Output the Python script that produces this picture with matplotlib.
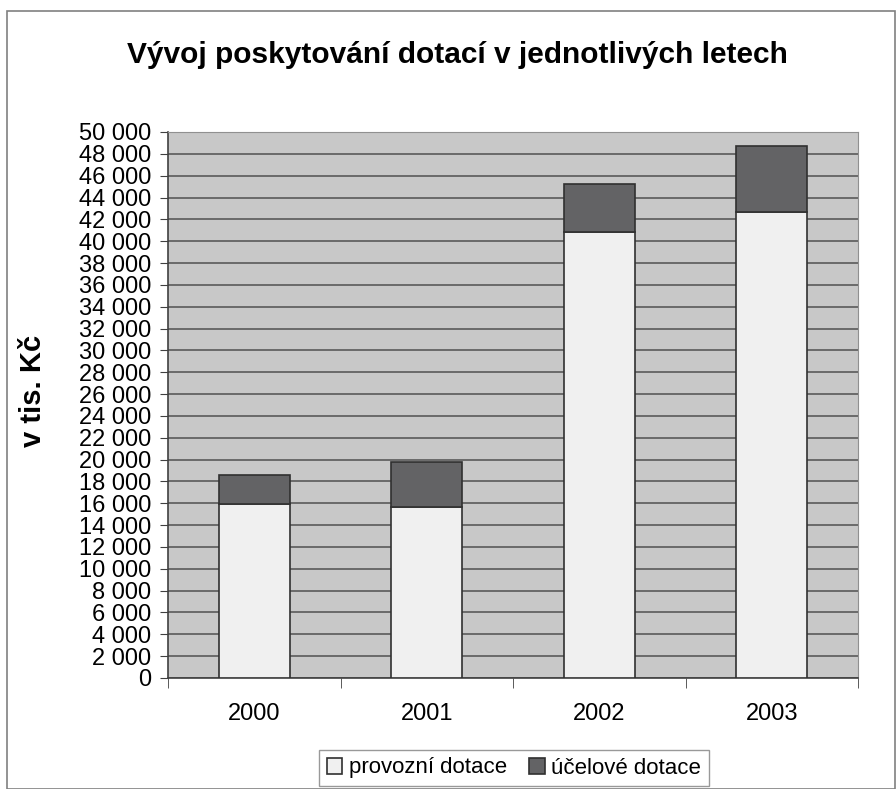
import matplotlib.pyplot as plt
import matplotlib.patches as patches
import numpy as np

# data (v tis. Kc)
years = ['2000', '2001', '2002', '2003']
provozni = [15900, 15700, 40800, 42700]
ucelove = [2700, 4050, 4400, 6000]

plt.rcParams['font.family'] = ['Liberation Sans', 'DejaVu Sans']

fig = plt.figure(figsize=(8.96, 7.89), dpi=100)
# outer chart border
fig.patches.append(patches.Rectangle((7/896, 0), 888/896, 1 - 11/789, transform=fig.transFigure,
                                     fill=False, edgecolor='#808080', linewidth=1.2))

ax = fig.add_axes([168/896, 1 - 678/789, 690/896, 546/789])
ax.set_facecolor('#c8c8c8')

x = np.arange(len(years))
ax.bar(x, provozni, width=0.41, color='#f0f0f0', edgecolor='#303030', linewidth=1.2,
       label='provozní dotace', zorder=3)
ax.bar(x, ucelove, width=0.41, bottom=provozni, color='#636365', edgecolor='#303030',
       linewidth=1.2, label='účelové dotace', zorder=3)

ax.set_xlim(-0.5, 3.5)
ax.set_ylim(0, 50000)
ticks = np.arange(0, 50001, 2000)
ax.set_yticks(ticks)
ax.set_yticklabels([f'{t:,}'.replace(',', ' ') for t in ticks], fontsize=17)
ax.yaxis.grid(True, color='#505050', linewidth=1.1, zorder=1)
ax.set_axisbelow(True)

ax.set_xticks(x)
ax.set_xticklabels(years, fontsize=17)
ax.tick_params(axis='x', length=0, pad=18)
ax.set_xticks(np.arange(-0.5, 4, 1), minor=True)
ax.tick_params(axis='x', which='minor', length=7, color='#404040')
ax.tick_params(axis='y', length=6, color='#404040', pad=6)

for s in ['top', 'right']:
    ax.spines[s].set_color('#909090')
for s in ['left', 'bottom']:
    ax.spines[s].set_color('#404040')
    ax.spines[s].set_linewidth(1.2)

ax.set_ylabel('v tis. Kč', fontsize=21, fontweight='bold')
ax.yaxis.set_label_coords(-0.175, 0.526)

fig.text(457/896, 1 - 55/789, 'Vývoj poskytování dotací v jednotlivých letech', ha='center',
         va='center', fontsize=21.5, fontweight='bold')

leg = fig.legend(loc='center', bbox_to_anchor=(514/896, 1 - 768/789), ncol=2, fontsize=16,
                 frameon=True, fancybox=False, edgecolor='#808080', handlelength=0.7,
                 handleheight=0.7, handletextpad=0.3, columnspacing=1.0, borderpad=0.35)
leg.get_frame().set_linewidth(1.0)

fig.savefig('out.png', dpi=100)
